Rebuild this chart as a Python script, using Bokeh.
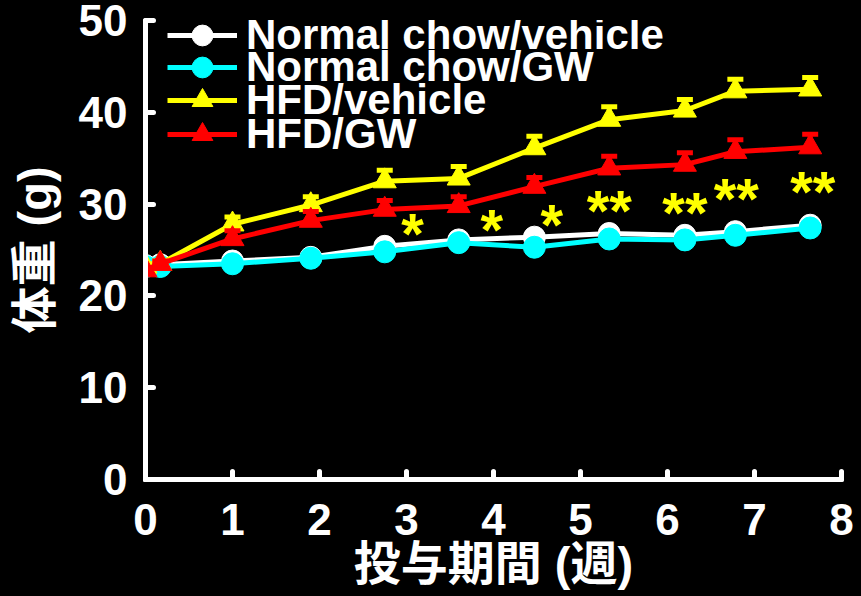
from bokeh.plotting import figure
from bokeh.models import FixedTicker, Legend, LegendItem
from bokeh.embed import file_html
from bokeh.resources import INLINE
from bokeh.core.properties import value

# ---- data ----
weeks = [0, 0.17, 1.0, 1.9, 2.75, 3.6, 4.47, 5.33, 6.2, 6.78, 7.64]
nc_vehicle = [23.3, 23.4, 23.8, 24.2, 25.4, 26.1, 26.4, 26.8, 26.6, 27.0, 27.7]
nc_gw = [23.2, 23.2, 23.5, 24.1, 24.8, 25.8, 25.3, 26.2, 26.1, 26.6, 27.4]
hfd_vehicle = [23.2, 23.5, 27.8, 29.9, 32.5, 32.8, 36.1, 39.2, 40.2, 42.3, 42.5]
hfd_vehicle_sem = [0.3, 0.3, 0.8, 0.9, 1.2, 1.3, 1.3, 1.4, 1.2, 1.3, 1.3]
hfd_gw = [22.8, 23.5, 26.2, 28.2, 29.4, 29.8, 31.9, 33.9, 34.3, 35.7, 36.2]
hfd_gw_sem = [0.3, 0.3, 0.9, 1.0, 1.0, 1.0, 1.0, 1.3, 1.3, 1.3, 1.4]

series_labels = ["Normal chow/vehicle", "Normal chow/GW", "HFD/vehicle", "HFD/GW"]

star_labels = ["*", "*", "*", "**", "**", "**", "**"]
star_x = [3.07, 3.98, 4.67, 5.33, 6.2, 6.79, 7.67]
star_y = [27.55, 27.99, 28.58, 30.1, 29.9, 31.37, 32.1]

x_ticks = [0, 1, 2, 3, 4, 5, 6, 7, 8]
y_ticks = [0, 10, 20, 30, 40, 50]
x_title = "投与期間 (週)"
y_title = "体重 (g)"

WHITE = "#ffffff"
CYAN = "#00ffff"
YELLOW = "#ffff00"
RED = "#ff0000"

p = figure(width=856, height=595, x_range=(0, 8), y_range=(0, 50),
           output_backend="svg", toolbar_location=None,
           min_border_left=145, min_border_right=15,
           min_border_top=20, min_border_bottom=116,
           background_fill_color="black", border_fill_color="black",
           outline_line_color=None)
p.grid.visible = False

for ax in (p.xaxis[0], p.yaxis[0]):
    ax.axis_line_color = "white"
    ax.axis_line_width = 5
    ax.axis_line_cap = "round"
    ax.major_tick_line_color = "white"
    ax.major_tick_line_width = 5
    ax.major_tick_line_cap = "round"
    ax.major_tick_in = 8
    ax.major_tick_out = 0
    ax.minor_tick_line_color = None
    ax.major_label_text_color = "white"
    ax.major_label_text_font = "Liberation Sans"
    ax.major_label_text_font_size = "44px"
    ax.major_label_text_font_style = "bold"
    ax.axis_label_text_color = "white"
    ax.axis_label_text_font = "Liberation Sans, Noto Sans CJK JP"
    ax.axis_label_text_font_size = "47px"
    ax.axis_label_text_font_style = "bold"

p.xaxis[0].ticker = FixedTicker(ticks=x_ticks)
p.yaxis[0].ticker = FixedTicker(ticks=y_ticks)
p.xaxis[0].axis_label = x_title
p.yaxis[0].axis_label = y_title
p.xaxis[0].major_label_standoff = 24
p.xaxis[0].axis_label_standoff = -1
p.yaxis[0].major_label_standoff = 18
p.yaxis[0].axis_label_standoff = 15

items = []

# Normal chow / vehicle
l1 = p.line(weeks, nc_vehicle, line_color=WHITE, line_width=5)
m1 = p.scatter(weeks, nc_vehicle, marker="circle", size=22, fill_color=WHITE, line_color=WHITE, line_width=1)
items.append(LegendItem(label=series_labels[0], renderers=[l1, m1]))

# Normal chow / GW
l2 = p.line(weeks, nc_gw, line_color=CYAN, line_width=5)
m2 = p.scatter(weeks, nc_gw, marker="circle", size=22, fill_color=CYAN, line_color=CYAN, line_width=1)
items.append(LegendItem(label=series_labels[1], renderers=[l2, m2]))

# HFD / vehicle
hv_top = [v + s for v, s in zip(hfd_vehicle, hfd_vehicle_sem)]
l3 = p.line(weeks, hfd_vehicle, line_color=YELLOW, line_width=5)
p.segment(weeks, hfd_vehicle, weeks, hv_top, line_color=YELLOW, line_width=5)
p.scatter(weeks, hv_top, marker="dash", size=16, line_color=YELLOW, line_width=5)
m3 = p.scatter(weeks, hfd_vehicle, marker="triangle", size=23, fill_color=YELLOW, line_color=YELLOW, line_width=1)
items.append(LegendItem(label=series_labels[2], renderers=[l3, m3]))

# HFD / GW
hg_top = [v + s for v, s in zip(hfd_gw, hfd_gw_sem)]
l4 = p.line(weeks, hfd_gw, line_color=RED, line_width=5)
p.segment(weeks, hfd_gw, weeks, hg_top, line_color=RED, line_width=5)
p.scatter(weeks, hg_top, marker="dash", size=16, line_color=RED, line_width=5)
m4 = p.scatter(weeks, hfd_gw, marker="triangle", size=23, fill_color=RED, line_color=RED, line_width=1)
items.append(LegendItem(label=series_labels[3], renderers=[l4, m4]))

# significance stars
p.text(star_x, star_y, text=star_labels, text_color=YELLOW,
       text_font=value("Liberation Sans"), text_font_size="58px", text_font_style="bold",
       text_align="center", text_baseline="alphabetic", y_offset=7)

# legend: one entry per Legend so the row pitch can be tighter than the text box
legend_rows_from_bottom = [418, 386, 353, 319]
for item, ly in zip(items, legend_rows_from_bottom):
    lg = Legend(items=[item], location=(22, ly), glyph_width=70, glyph_height=52,
                padding=0, margin=0, label_standoff=9,
                label_text_font="Liberation Sans", label_text_font_size="42px",
                label_text_font_style="bold", label_text_color="white",
                background_fill_alpha=0, border_line_color=None)
    p.add_layout(lg)

html = file_html(p, INLINE)
html = html.replace("<body>", '<body style="background-color:#000000;">')
open("out.html", "w").write(html)
